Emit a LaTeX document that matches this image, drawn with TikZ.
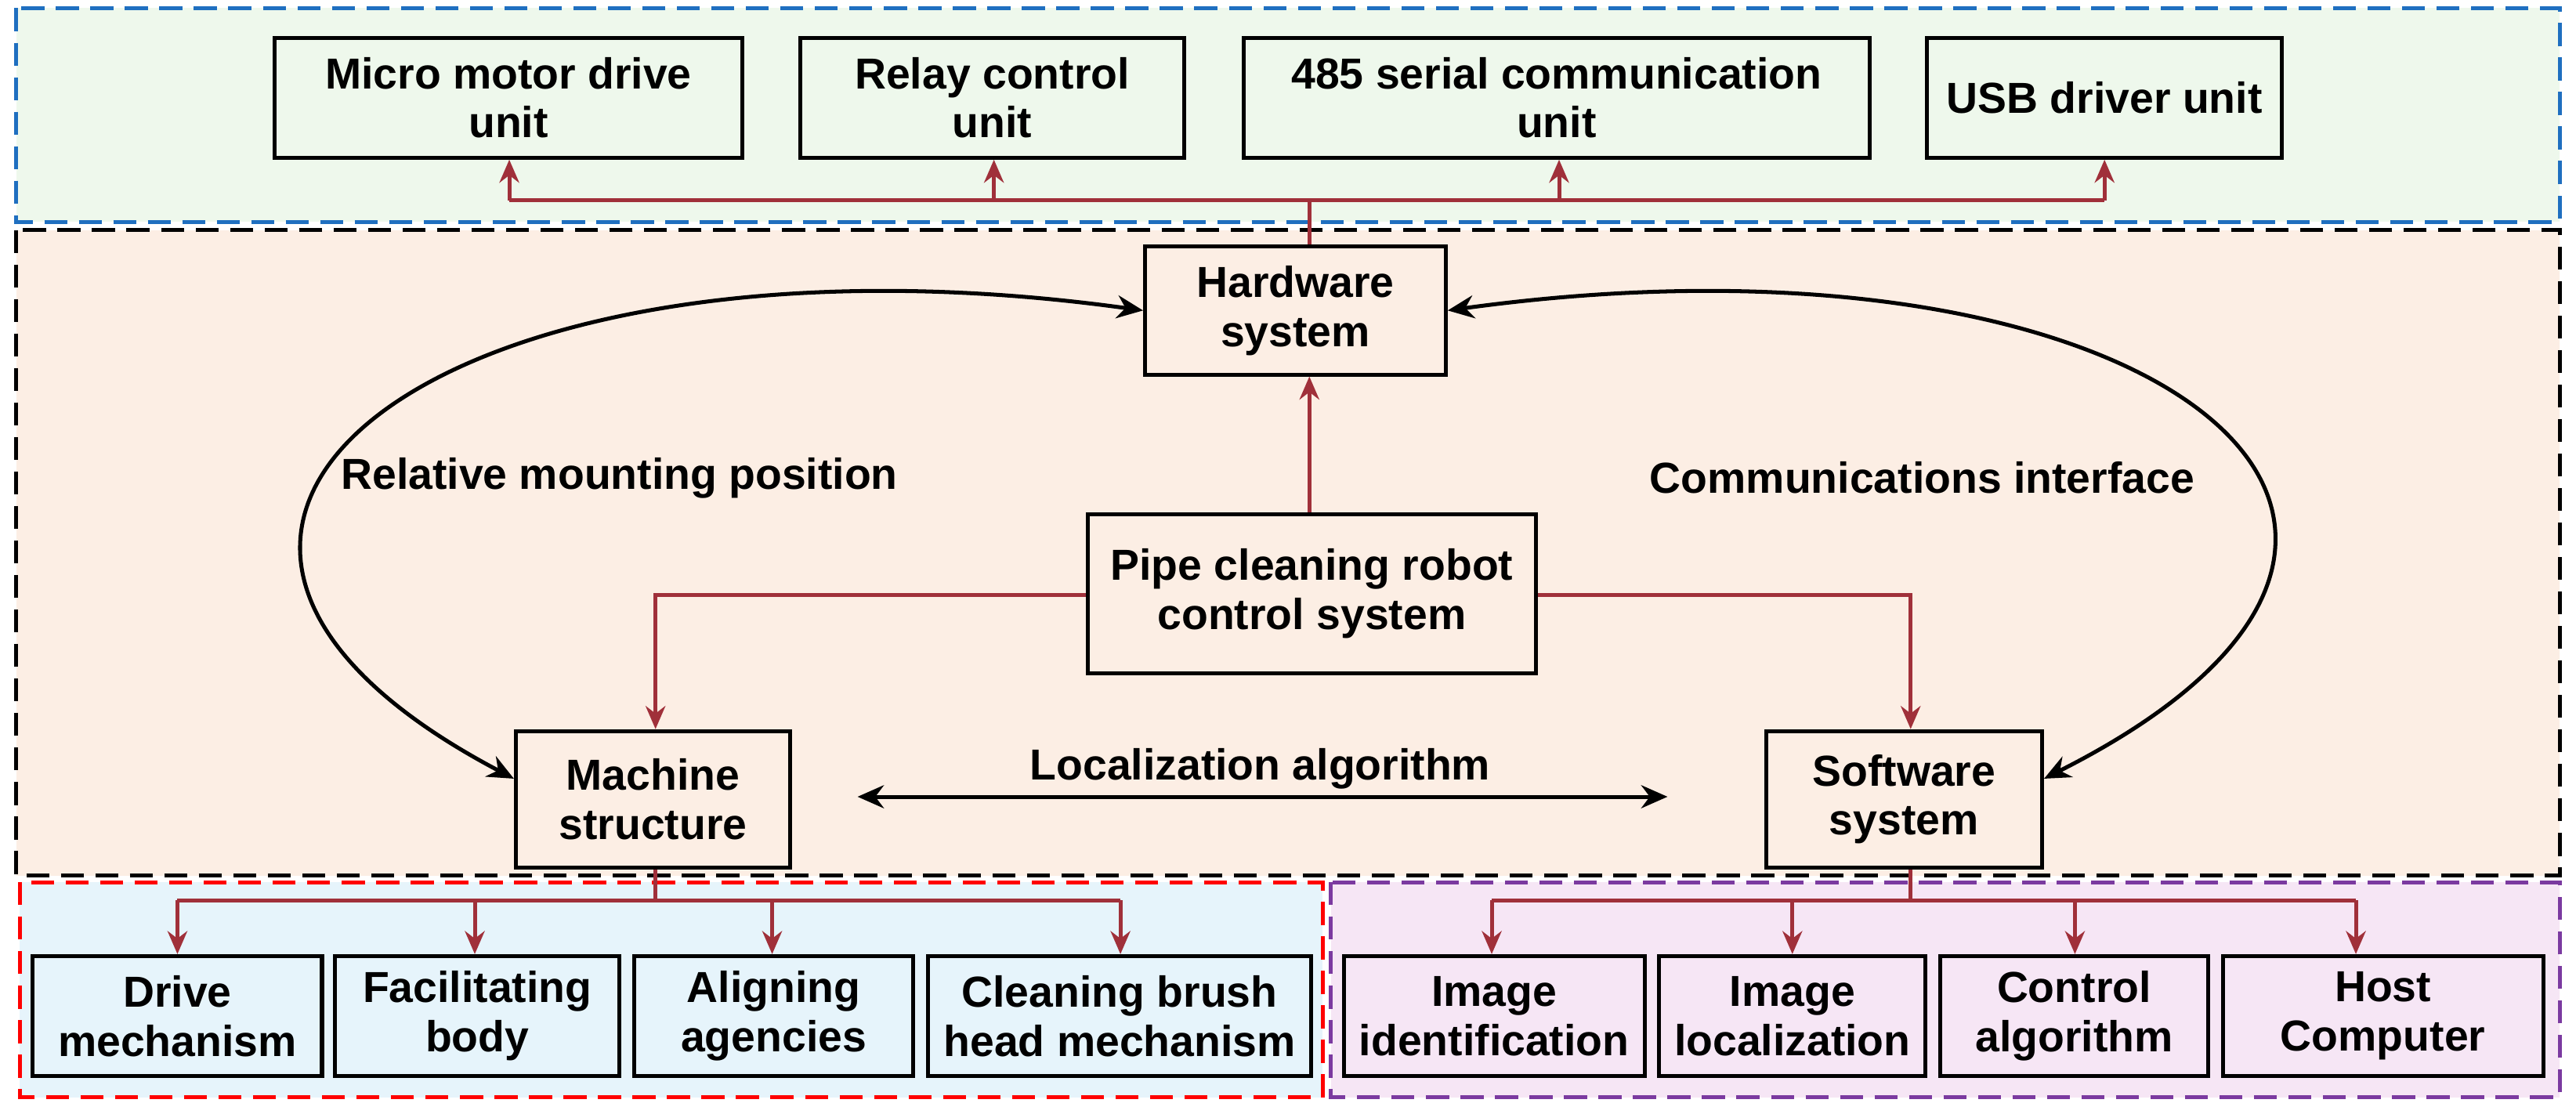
\documentclass[tikz,border=0pt]{standalone}
\usepackage{fontspec}
\setmainfont{Liberation Sans}
\usetikzlibrary{arrows.meta}
\definecolor{ar}{HTML}{A0303A}
\definecolor{gfill}{HTML}{EEF8EC}
\definecolor{ofill}{HTML}{FCEEE4}
\definecolor{bfill}{HTML}{E6F4FB}
\definecolor{pfill}{HTML}{F6E6F5}
\definecolor{bdash}{HTML}{1F6FC0}
\definecolor{pdash}{HTML}{7B3AA0}
\begin{document}
\begin{tikzpicture}[x=0.5pt,y=-0.5pt,
  box/.style={draw,line width=1.2pt,align=center,font=\fontsize{13.2}{15}\selectfont\bfseries,inner sep=0pt},
  red/.style={draw=ar,line width=1.2pt,-{Stealth[length=7pt,width=6pt]}},
  blk/.style={draw=black,line width=1.2pt,{Stealth[length=8pt,width=7pt]}-{Stealth[length=8pt,width=7pt]}},
  lab/.style={font=\fontsize{13.2}{15}\selectfont\bfseries},
  reg/.style={line width=1.2pt,dash pattern=on 7pt off 3.5pt}]
\useasboundingbox (0,0) rectangle (1568,678);
\fill[white] (0,0) rectangle (1568,678);
\path[reg,fill=gfill,draw=bdash] (10,5) rectangle (1558,135);
\path[reg,fill=ofill,draw=black] (10,140) rectangle (1558,533);
\path[reg,fill=bfill,draw=red] (12,537) rectangle (805,668);
\path[reg,fill=pfill,draw=pdash] (810,537) rectangle (1558,668);
% top boxes
\node[box,fill=gfill,minimum width=142.5pt,minimum height=36.5pt] (mm) at (309.5,59.5) {Micro motor drive\\unit};
\node[box,fill=gfill,minimum width=117pt,minimum height=36.5pt] (rc) at (604,59.5) {Relay control\\unit};
\node[box,fill=gfill,minimum width=190.5pt,minimum height=36.5pt] (sc) at (947.5,59.5) {485 serial communication\\unit};
\node[box,fill=gfill,minimum width=108pt,minimum height=36.5pt] (usb) at (1281,59.5) {USB driver unit};
% middle
\node[box,fill=ofill,minimum width=91.5pt,minimum height=39pt] (hw) at (788.5,189) {Hardware\\system};
\node[box,fill=ofill,minimum width=136.5pt,minimum height=48.5pt] (pipe) at (798.5,361.5) {Pipe cleaning robot\\control system};
\node[box,fill=ofill,minimum width=83.5pt,minimum height=41.5pt] (ms) at (397.5,486.5) {Machine\\structure};
\node[box,fill=ofill,minimum width=84pt,minimum height=41.5pt] (ss) at (1159,486.5) {Software\\system};
% bottom
\node[box,fill=bfill,minimum width=88pt,minimum height=36.5pt] (b1) at (108,618.5) {Drive\\mechanism};
\node[box,fill=bfill,minimum width=86.5pt,minimum height=36.5pt] (b2) at (290.5,618.5) {Facilitating\\body};
\node[box,fill=bfill,minimum width=85pt,minimum height=36.5pt] (b3) at (471,618.5) {Aligning\\agencies};
\node[box,fill=bfill,minimum width=116.5pt,minimum height=36.5pt] (b4) at (681.5,618.5) {Cleaning brush\\head mechanism};
\node[box,fill=pfill,minimum width=91.5pt,minimum height=36.5pt] (p1) at (909.5,618.5) {Image\\identification};
\node[box,fill=pfill,minimum width=81pt,minimum height=36.5pt] (p2) at (1091,618.5) {Image\\localization};
\node[box,fill=pfill,minimum width=81.5pt,minimum height=36.5pt] (p3) at (1262.5,618.5) {Control\\algorithm};
\node[box,fill=pfill,minimum width=97.5pt,minimum height=36.5pt] (p4) at (1450.5,618.5) {Host\\Computer};
% top tree
\coordinate (tj) at (797,122);
\draw[ar,line width=1.2pt] (hw.north -| tj) -- (tj);
\draw[ar,line width=1.2pt] (310,122) -- (1281,122);
\foreach \n/\x in {mm/310,rc/605,sc/949,usb/1281} \draw[red] (\x,122) -- (\n.south -| \x,0);
% pipe connections
\draw[red] (pipe.north -| 797,0) -- (hw.south -| 797,0);
\draw[red] (pipe.west |- 0,362) -| (ms.north -| 399,0);
\draw[red] (pipe.east |- 0,362) -| (ss.north -| 1163,0);
% bottom trees
\draw[ar,line width=1.2pt] (ms.south -| 399,0) -- (399,548);
\draw[ar,line width=1.2pt] (108,548) -- (682,548);
\foreach \n/\x in {b1/108,b2/289,b3/470,b4/682} \draw[red] (\x,548) -- (\n.north -| \x,0);
\draw[ar,line width=1.2pt] (ss.south -| 1163,0) -- (1163,548);
\draw[ar,line width=1.2pt] (908,548) -- (1434,548);
\foreach \n/\x in {p1/908,p2/1091,p3/1263,p4/1434} \draw[red] (\x,548) -- (\n.north -| \x,0);
% black arrows
\coordinate (la) at (522,485); \coordinate (lb) at (1015,485);
\draw[blk] (la) -- (lb);
\node[lab] (ll) at (767,468) {Localization algorithm};
\draw[blk] (hw.west) .. controls (270,130) and (20,320) .. (ms.west |- 0,474);
\draw[blk] (hw.east) .. controls (1310,130) and (1550,320) .. (ss.east |- 0,474);
\node[lab] (rm) at (377,291) {Relative mounting position};
\node[lab] (ci) at (1170,291) {Communications interface};
\end{tikzpicture}
\end{document}
